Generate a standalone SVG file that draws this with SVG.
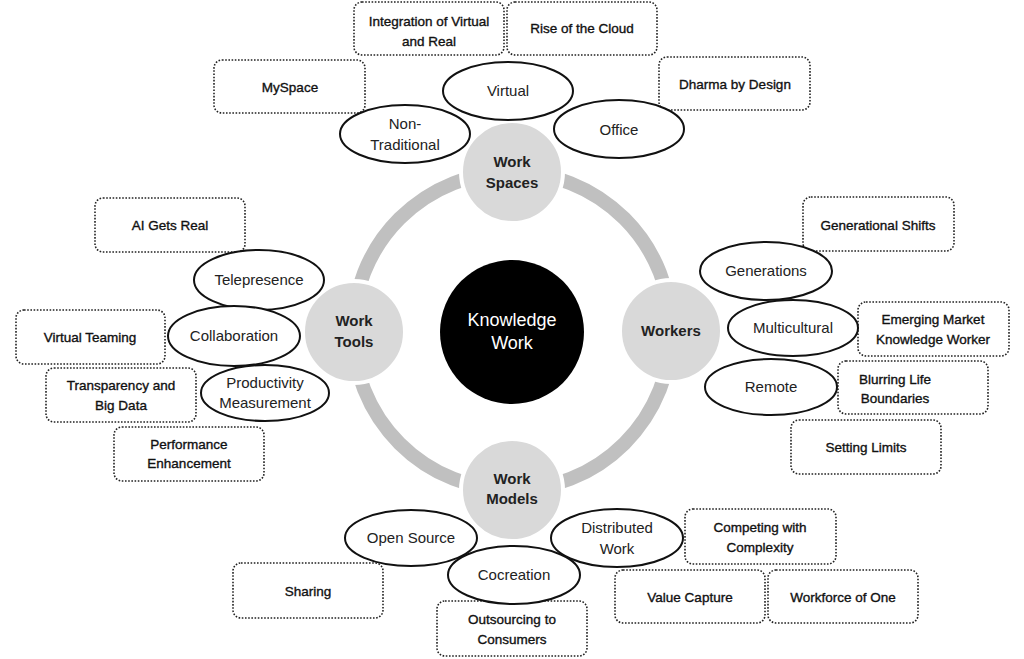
<svg xmlns="http://www.w3.org/2000/svg" width="1024" height="659" viewBox="0 0 1024 659">
<style>
.box{fill:#fff;stroke:#222;stroke-width:1.6;stroke-dasharray:1.6 1.6}
.ell{fill:#fff;stroke:#111;stroke-width:2}
.hub{fill:#d9d9d9;stroke:#fff;stroke-width:4}
.bt{font-family:"Liberation Sans",Arial,sans-serif;font-size:13.5px;fill:#111;stroke:#111;stroke-width:0.35;text-anchor:middle}
.et{font-family:"Liberation Sans",Arial,sans-serif;font-size:15px;fill:#222;text-anchor:middle}
.ht{font-family:"Liberation Sans",Arial,sans-serif;font-size:15px;font-weight:bold;fill:#222;text-anchor:middle}
.ct{font-family:"Liberation Sans",Arial,sans-serif;font-size:18px;fill:#fff;text-anchor:middle}
</style>
<rect width="1024" height="659" fill="#fff"/>
<g id="connectors">
<circle cx="512" cy="331" r="159" fill="none" stroke="#c0c0c0" stroke-width="14"/>
</g>
<g id="center"><circle cx="512" cy="332" r="72" fill="#000"/><text class="ct" x="512" y="326">Knowledge</text><text class="ct" x="512" y="349">Work</text></g>
<g id="hub-spaces"><circle class="hub" cx="512" cy="172" r="51"/><text class="ht" x="512" y="167">Work</text><text class="ht" x="512" y="188">Spaces</text></g>
<g id="hub-tools"><circle class="hub" cx="354" cy="332" r="51"/><text class="ht" x="354" y="326">Work</text><text class="ht" x="354" y="347">Tools</text></g>
<g id="hub-workers"><circle class="hub" cx="671" cy="331" r="51"/><text class="ht" x="671" y="336">Workers</text></g>
<g id="hub-models"><circle class="hub" cx="512" cy="490" r="51"/><text class="ht" x="512" y="484">Work</text><text class="ht" x="512" y="504">Models</text></g>

<g id="box-integration"><rect class="box" x="354" y="2" width="150" height="53" rx="8"/><text class="bt" x="429" y="26">Integration of  Virtual</text><text class="bt" x="429" y="46">and Real</text></g>
<g id="box-cloud"><rect class="box" x="507" y="2" width="150" height="53" rx="8"/><text class="bt" x="582" y="33">Rise of the Cloud</text></g>
<g id="box-myspace"><rect class="box" x="214" y="60" width="151" height="53" rx="8"/><text class="bt" x="290" y="92">MySpace</text></g>
<g id="box-dharma"><rect class="box" x="659" y="57" width="151" height="53" rx="8"/><text class="bt" x="735" y="89">Dharma by Design</text></g>
<g id="box-ai"><rect class="box" x="95" y="198" width="150" height="54" rx="8"/><text class="bt" x="170" y="230">AI Gets Real</text></g>
<g id="box-teaming"><rect class="box" x="16" y="310" width="149" height="54" rx="8"/><text class="bt" x="90" y="342">Virtual Teaming</text></g>
<g id="box-transparency"><rect class="box" x="46" y="368" width="150" height="54" rx="8"/><text class="bt" x="121" y="390">Transparency and</text><text class="bt" x="121" y="410">Big Data</text></g>
<g id="box-performance"><rect class="box" x="114" y="427" width="150" height="54" rx="8"/><text class="bt" x="189" y="449">Performance</text><text class="bt" x="189" y="468">Enhancement</text></g>
<g id="box-genshifts"><rect class="box" x="803" y="197" width="151" height="54" rx="8"/><text class="bt" x="878" y="230">Generational Shifts</text></g>
<g id="box-emerging"><rect class="box" x="858" y="302" width="151" height="54" rx="8"/><text class="bt" x="933" y="324">Emerging Market</text><text class="bt" x="933" y="344">Knowledge Worker</text></g>
<g id="box-blurring"><rect class="box" x="838" y="361" width="150" height="53" rx="8"/><text class="bt" x="895" y="384">Blurring Life</text><text class="bt" x="895" y="403">Boundaries</text></g>
<g id="box-limits"><rect class="box" x="791" y="420" width="150" height="54" rx="8"/><text class="bt" x="866" y="452">Setting Limits</text></g>
<g id="box-complexity"><rect class="box" x="685" y="509" width="151" height="55" rx="8"/><text class="bt" x="760" y="532">Competing with</text><text class="bt" x="760" y="552">Complexity</text></g>
<g id="box-sharing"><rect class="box" x="233" y="563" width="150" height="55" rx="8"/><text class="bt" x="308" y="596">Sharing</text></g>
<g id="box-value"><rect class="box" x="615" y="570" width="150" height="53" rx="8"/><text class="bt" x="690" y="602">Value Capture</text></g>
<g id="box-workforce"><rect class="box" x="768" y="570" width="150" height="53" rx="8"/><text class="bt" x="843" y="602">Workforce of One</text></g>
<g id="box-outsourcing"><rect class="box" x="437" y="601" width="150" height="55" rx="8"/><text class="bt" x="512" y="624">Outsourcing to</text><text class="bt" x="512" y="644">Consumers</text></g>

<g id="ell-virtual"><ellipse class="ell" cx="508" cy="91" rx="65" ry="29"/><text class="et" x="508" y="96">Virtual</text></g>
<g id="ell-nontrad"><ellipse class="ell" cx="405" cy="134" rx="65" ry="29"/><text class="et" x="405" y="129">Non-</text><text class="et" x="405" y="150">Traditional</text></g>
<g id="ell-office"><ellipse class="ell" cx="619" cy="129" rx="65" ry="29"/><text class="et" x="619" y="135">Office</text></g>
<g id="ell-telepresence"><ellipse class="ell" cx="259" cy="280" rx="65" ry="30"/><text class="et" x="259" y="285">Telepresence</text></g>
<g id="ell-collaboration"><ellipse class="ell" cx="234" cy="336" rx="66" ry="30"/><text class="et" x="234" y="341">Collaboration</text></g>
<g id="ell-productivity"><ellipse class="ell" cx="265" cy="393" rx="64" ry="28"/><text class="et" x="265" y="388">Productivity</text><text class="et" x="265" y="408">Measurement</text></g>
<g id="ell-generations"><ellipse class="ell" cx="766" cy="271" rx="66" ry="29"/><text class="et" x="766" y="276">Generations</text></g>
<g id="ell-multicultural"><ellipse class="ell" cx="793" cy="328" rx="65" ry="28"/><text class="et" x="793" y="333">Multicultural</text></g>
<g id="ell-remote"><ellipse class="ell" cx="771" cy="387" rx="66" ry="28"/><text class="et" x="771" y="392">Remote</text></g>
<g id="ell-opensource"><ellipse class="ell" cx="411" cy="538" rx="66" ry="28"/><text class="et" x="411" y="543">Open Source</text></g>
<g id="ell-distributed"><ellipse class="ell" cx="617" cy="538" rx="66" ry="29"/><text class="et" x="617" y="533">Distributed</text><text class="et" x="617" y="554">Work</text></g>
<g id="ell-cocreation"><ellipse class="ell" cx="514" cy="575" rx="66" ry="29"/><text class="et" x="514" y="580">Cocreation</text></g>
</svg>
